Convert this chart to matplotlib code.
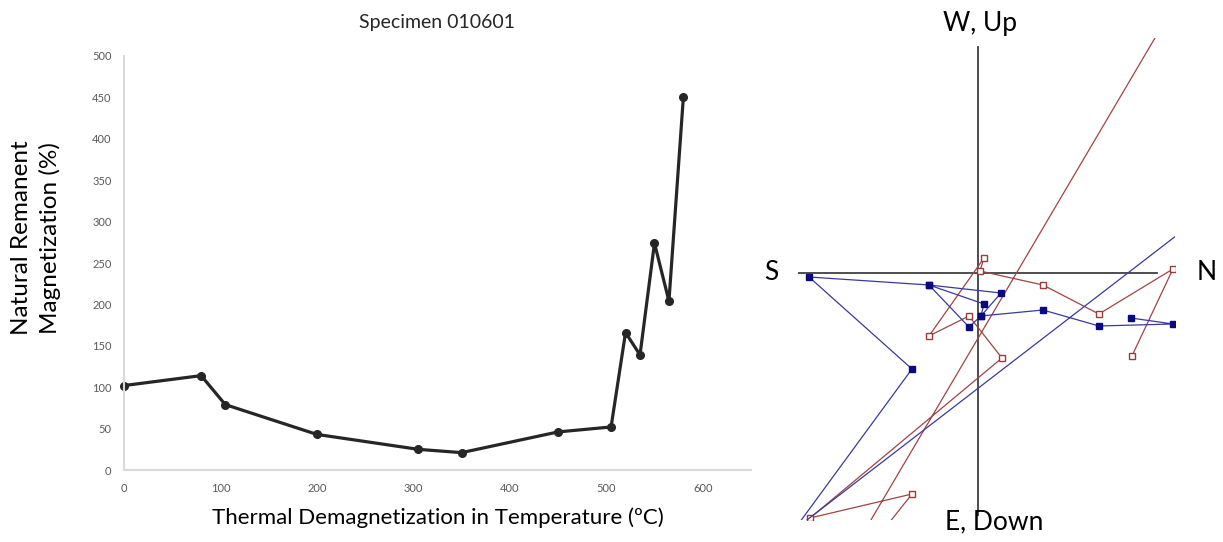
import matplotlib.pyplot as plt

plt.rcParams['font.family'] = ['Lato', 'DejaVu Sans']

# левый график: размагничивание NRM при нагреве
temp = [0, 80, 105, 200, 305, 350, 450, 505, 520, 535, 550, 565, 580]
nrm = [102, 114, 79, 43, 25, 21, 46, 52, 166, 139, 274, 204, 451]
x_ticks = [0, 100, 200, 300, 400, 500, 600]
y_ticks = [0, 50, 100, 150, 200, 250, 300, 350, 400, 450, 500]

# диаграмма Зийдервельда (координаты относительно начала)
# синие - горизонтальная проекция, красные - вертикальная
blue_x = [153, 195, 121, 65, 3, 23, -49, 6, 3, -9, -49, -169, -66, -184, 272]
blue_y = [-45, -51, -53, -37, -43, -20, -12, -31, -43, -54, -12, -4, -96, -257, 94]
red_x = [154, 195, 121, 65, 2, 6, -49, -9, 24, -168, -66, -166, 223]
red_y = [-83, 4, -41, -12, 2, 15, -63, -43, -85, -245, -221, -347, 313]

fig = plt.figure(figsize=(12.23, 5.42), dpi=100)

ax = fig.add_axes([0.1014, 0.1328, 0.5126, 0.7639])
ax.plot(temp, nrm, color='#262626', lw=2.3, marker='o', ms=5.5, clip_on=False)
ax.set_xlim(0, 650)
ax.set_ylim(0, 500)
ax.set_xticks(x_ticks)
ax.set_yticks(y_ticks)
ax.tick_params(length=0, labelsize=8, labelcolor='#595959', pad=9)
for s in ['top', 'right']:
    ax.spines[s].set_visible(False)
for s in ['left', 'bottom']:
    ax.spines[s].set_color('#d9d9d9')
    ax.spines[s].set_linewidth(1.5)
ax.set_title('Specimen 010601', fontsize=14, color='#262626', pad=20)
ax.set_xlabel('Thermal Demagnetization in Temperature (ºC)', fontsize=16, labelpad=10)
ax.set_ylabel('Natural Remanent\nMagnetization (%)', fontsize=17.5, linespacing=1.4)
ax.yaxis.set_label_coords(-0.1, 0.56)

# правый график
az = fig.add_axes([0.6525, 0.0406, 0.3082, 0.8893])
az.set_xlim(-180, 197)
az.set_ylim(-247, 235)
az.axis('off')
az.plot([-180, 179], [0, 0], color='#404040', lw=1.3)
az.plot([0, 0], [-242, 226], color='#404040', lw=1.3)
az.plot(red_x, red_y, color='#a04444', lw=0.9, marker='s', ms=4,
        mfc='white', mec='#9c3a3a', mew=1.0)
az.plot(blue_x, blue_y, color='#3a3a9c', lw=0.9, marker='s', ms=4.3,
        mfc='#0a0a80', mec='#0a0a80')
az.text(2, 249, 'W, Up', fontsize=19, ha='center', va='center')
az.text(16, -249, 'E, Down', fontsize=19, ha='center', va='center')
az.text(-207, 0, 'S', fontsize=19, ha='center', va='center')
az.text(229, 0, 'N', fontsize=19, ha='center', va='center')

fig.savefig('out.png', dpi=100)
